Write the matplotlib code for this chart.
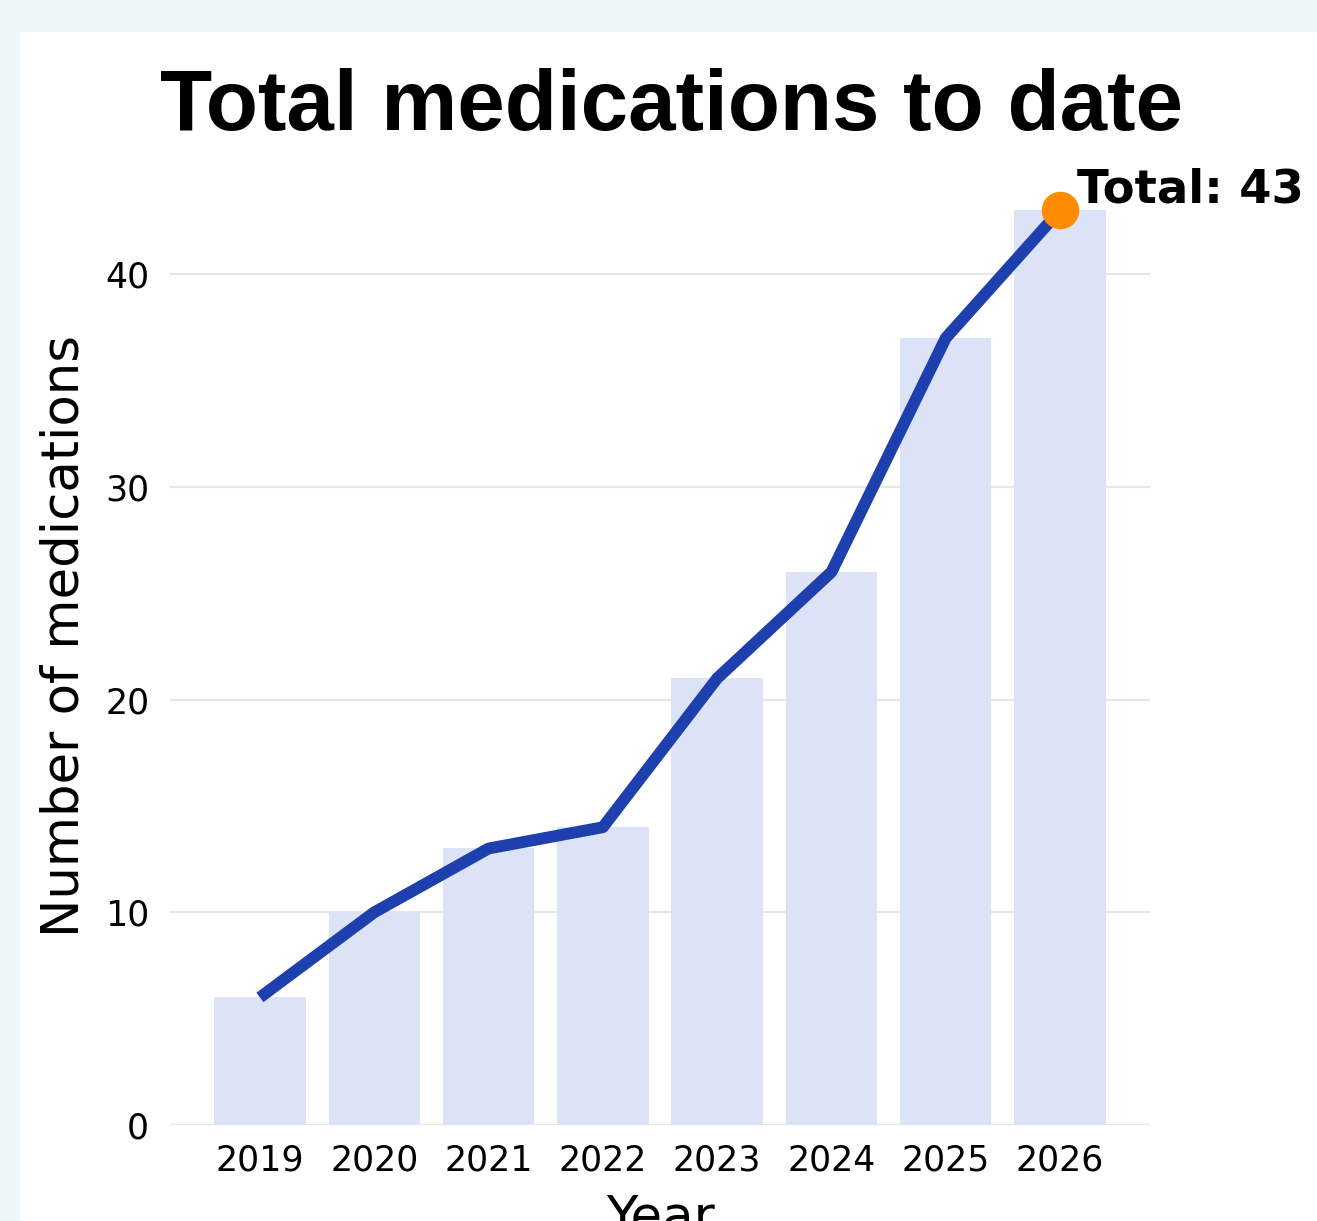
import matplotlib
matplotlib.use("Agg")
import matplotlib.pyplot as plt
from matplotlib.patches import Rectangle

years = ["2019", "2020", "2021", "2022", "2023", "2024", "2025", "2026"]
totals = [6, 10, 13, 14, 21, 26, 37, 43]
yticks = [0, 10, 20, 30, 40]

W, H = 1317, 1221
fig = plt.figure(figsize=(W / 100, H / 100), dpi=100, facecolor="#edf7fa")
fig.patches.append(Rectangle((20 / W, 0), 1 - 20 / W, 1 - 32 / H, transform=fig.transFigure,
                             facecolor="white", edgecolor="none", zorder=-5))

ax = fig.add_axes([170 / W, 96 / H, 980 / W, (1125 - 146.6) / H])
ax.set_facecolor("none")
x = list(range(len(years)))
ax.bar(x, totals, width=0.8, color="#dde3f7", zorder=1)
ax.plot(x, totals, color="#1e40af", lw=8.5, solid_capstyle="butt", zorder=3)
ax.plot([x[-1]], [totals[-1]], "o", color="#ff8c00", ms=26, zorder=4, clip_on=False)
ax.annotate(f"Total: {totals[-1]}", (x[-1], totals[-1]), xytext=(12, 15), textcoords="offset points",
            fontsize=33.5, fontweight="bold", ha="left", va="center", annotation_clip=False)

ax.set_xlim(-0.787, 7.787)
ax.set_ylim(0, 46)
ax.set_xticks(x)
ax.set_xticklabels(years)
ax.set_yticks(yticks)
ax.tick_params(axis="both", length=0, labelsize=25)
ax.tick_params(axis="x", pad=13)
ax.tick_params(axis="y", pad=15)
ax.grid(axis="y", color="#e6e6e6", lw=1.5, zorder=0)
ax.set_axisbelow(True)
for s in ax.spines.values():
    s.set_visible(False)
ax.set_ylabel("Number of medications", fontsize=37, labelpad=11)
ax.set_xlabel("Year", fontsize=37, labelpad=12)

fig.text(671 / W, 1 - 108 / H, "Total medications to date", fontsize=61.5, fontweight="bold",
         family="Liberation Sans", ha="center", va="center")

fig.savefig("out.png", dpi=100, facecolor=fig.get_facecolor())
